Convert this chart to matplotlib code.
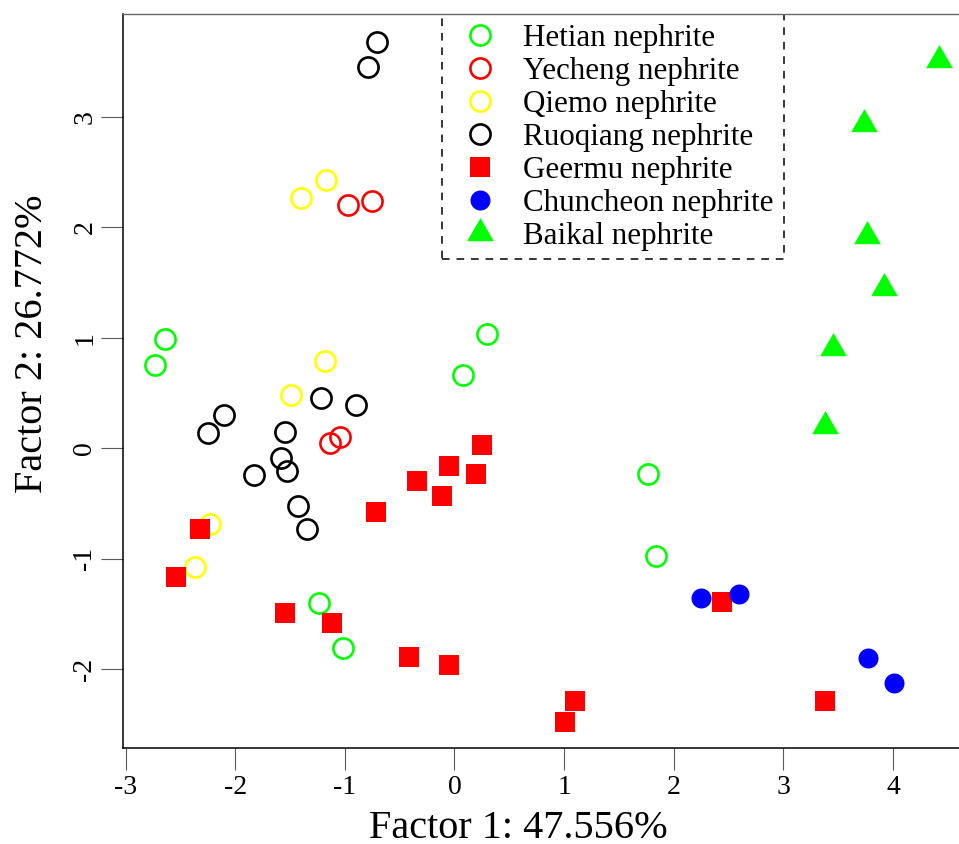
import matplotlib
matplotlib.use("Agg")
import matplotlib.pyplot as plt
from matplotlib.patches import Rectangle

plt.rcParams["font.family"] = ["Liberation Serif", "DejaVu Serif"]
plt.rcParams["axes.unicode_minus"] = False

# ---- data (factor scores) ----
hetian_x = [-2.735, -2.637, 0.296, 0.078, 1.765, 1.837, -1.239, -1.020]
hetian_y = [0.753, 0.988, 1.031, 0.662, -0.233, -0.973, -1.401, -1.805]

yecheng_x = [-0.975, -0.752, -1.133, -1.041]
yecheng_y = [2.201, 2.237, 0.044, 0.104]

qiemo_x = [-1.397, -1.169, -1.185, -1.491, -2.227, -2.364]
qiemo_y = [2.267, 2.424, 0.789, 0.484, -0.686, -1.075]

ruoqiang_x = [-0.704, -0.786, -1.215, -0.902, -2.104, -2.248, -1.549, -1.579,
              -1.527, -1.826, -1.427, -1.349]
ruoqiang_y = [3.676, 3.452, 0.454, 0.394, 0.300, 0.135, 0.149, -0.091,
              -0.204, -0.243, -0.523, -0.731]

geermu_x = [0.249, -0.047, 0.199, -0.342, -0.114, -0.713, -2.321, -2.540,
            -1.543, -1.114, -0.412, -0.054, 1.102, 1.004, 2.439, 3.375]
geermu_y = [0.029, -0.161, -0.233, -0.297, -0.433, -0.580, -0.731, -1.168,
            -1.494, -1.584, -1.887, -1.962, -2.285, -2.475, -1.389, -2.285]

chuncheon_x = [2.248, 2.591, 3.771, 4.004]
chuncheon_y = [-1.353, -1.319, -1.896, -2.122]

baikal_x = [4.421, 3.737, 3.762, 3.919, 3.452, 3.381]
baikal_y = [3.516, 2.937, 1.916, 1.447, 0.904, 0.204]

x_ticks = [-3, -2, -1, 0, 1, 2, 3, 4]
y_ticks = [-2, -1, 0, 1, 2, 3]

# R 스타일 삼각형(무게중심 = 점 위치)
TRI = [(0, 1.555), (1.3468, -0.7776), (-1.3468, -0.7776), (0, 1.555)]

fig = plt.figure(figsize=(9.59, 8.44), dpi=100)
ax = fig.add_axes([0.1286, 0.1141, 0.8839, 0.8693])

open_kw = dict(ls="none", marker="o", ms=14.5, mew=1.9, mfc="none")
ax.plot(hetian_x, hetian_y, mec="#00ff00", label="Hetian nephrite", **open_kw)
ax.plot(yecheng_x, yecheng_y, mec="#ff0000", label="Yecheng nephrite", **open_kw)
ax.plot(qiemo_x, qiemo_y, mec="#ffff00", label="Qiemo nephrite", **open_kw)
ax.plot(ruoqiang_x, ruoqiang_y, mec="black", label="Ruoqiang nephrite", **open_kw)
ax.plot(geermu_x, geermu_y, ls="none", marker="s", ms=14.9, mew=0, color="#ff0000",
        label="Geermu nephrite")
ax.plot(chuncheon_x, chuncheon_y, ls="none", marker="o", ms=14.4, mew=0, color="#0000ff",
        label="Chuncheon nephrite")
ax.plot(baikal_x, baikal_y, ls="none", marker=TRI, ms=22.2, mew=0, color="#00ff00",
        label="Baikal nephrite")

ax.set_xlim(-3.02, 4.71)
ax.set_ylim(-2.71, 3.929)
ax.set_xticks(x_ticks)
ax.set_yticks(y_ticks)
ax.set_xticklabels([str(v) for v in x_ticks])
ax.set_yticklabels([str(v) for v in y_ticks], rotation=90, va="center")
ax.tick_params(axis="both", length=15.6, width=0.8, color="0.35", labelsize=20)
ax.tick_params(axis="x", pad=4.0)
ax.tick_params(axis="y", pad=3.0)

for side in ("left", "bottom"):
    ax.spines[side].set_linewidth(1.1)
    ax.spines[side].set_color("black")
ax.spines["top"].set_linewidth(1.0)
ax.spines["top"].set_color("0.4")

ax.set_xlabel("Factor 1: 47.556%", fontsize=29)
ax.xaxis.label.set_va("baseline")
ax.xaxis.set_label_coords(0.4656, -0.1235)
ax.set_ylabel("Factor 2: 26.772%", fontsize=29)
ax.yaxis.label.set_rotation_mode("anchor")
ax.yaxis.label.set_va("baseline")
ax.yaxis.label.set_ha("center")
ax.yaxis.set_label_coords(-0.0959, 0.5502)

leg = ax.legend(loc="upper left", bbox_to_anchor=(0.4025, 0.9867), frameon=False,
                fontsize=22.3, borderpad=0, borderaxespad=0, handlelength=1.0,
                handletextpad=0.9, labelspacing=0.128, numpoints=1)
# 점선 범례 테두리(따로 그림)
ax.add_patch(Rectangle((0.3763, 0.6665), 0.4031, 0.34, transform=ax.transAxes,
                       fill=False, ec="black", lw=1.1, ls=(0, (5, 4.5)), clip_on=True))

fig.savefig("out.png", dpi=100)
